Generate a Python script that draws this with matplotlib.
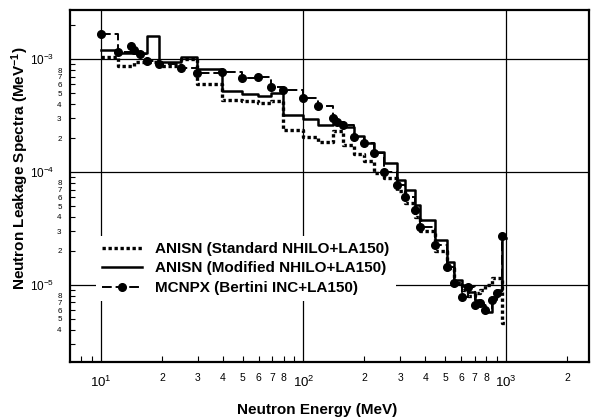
import numpy as np
import matplotlib
matplotlib.use("Agg")
import matplotlib.pyplot as plt
from matplotlib.ticker import FixedLocator, FuncFormatter

plt.rcParams["font.family"] = ["Liberation Sans", "DejaVu Sans"]
plt.rcParams["mathtext.default"] = "regular"

# group boundaries (MeV), shared by all three spectra
edges = [10, 12.1, 14.1, 14.6, 15.6, 16.9, 19.3, 24.8, 29.8, 39.6, 49.7, 59.6,
         69.2, 79.3, 100, 118, 140, 146, 157, 178, 199, 223, 250, 290, 317,
         356, 376, 446, 511, 554, 606, 649, 703, 744, 788, 853, 903, 956, 1000]

anisn_standard = [1.04e-3, 8.7e-4, 8.7e-4, 9.5e-4, 9.5e-4, 9.5e-4, 8.7e-4, 1.0e-3,
                  6.0e-4, 4.34e-4, 4.25e-4, 4.1e-4, 4.25e-4, 2.35e-4, 2.04e-4,
                  1.84e-4, 2.3e-4, 2.3e-4, 1.75e-4, 1.45e-4, 1.25e-4, 9.8e-5,
                  8.8e-5, 6.8e-5, 5.3e-5, 4.0e-5, 3.0e-5, 2.0e-5, 1.4e-5, 1.05e-5,
                  9.0e-6, 8.0e-6, 8.5e-6, 9.0e-6, 1.0e-5, 1.15e-5, 1.15e-5, 4.6e-6]

anisn_modified = [1.20e-3, 1.13e-3, 1.13e-3, 1.13e-3, 1.13e-3, 1.6e-3, 9.4e-4, 1.04e-3,
                  8.2e-4, 5.2e-4, 4.9e-4, 4.7e-4, 5.0e-4, 3.19e-4, 2.94e-4,
                  2.6e-4, 2.8e-4, 2.8e-4, 2.5e-4, 2.1e-4, 1.8e-4, 1.5e-4,
                  1.2e-4, 8.5e-5, 6.9e-5, 5.1e-5, 3.76e-5, 2.5e-5, 1.6e-5, 1.1e-5,
                  9.9e-6, 8.7e-6, 7.4e-6, 6.7e-6, 5.8e-6, 7.8e-6, 9.1e-6, 2.6e-5]

mcnpx = [1.66e-3, 1.15e-3, 1.30e-3, 1.20e-3, 1.10e-3, 9.6e-4, 9.0e-4, 8.3e-4,
         7.5e-4, 7.7e-4, 6.8e-4, 6.9e-4, 5.65e-4, 5.3e-4, 4.5e-4, 3.84e-4,
         3.0e-4, 2.8e-4, 2.6e-4, 2.04e-4, 1.81e-4, 1.47e-4, 1.0e-4, 7.7e-5,
         6.0e-5, 4.6e-5, 3.26e-5, 2.26e-5, 1.44e-5, 1.04e-5, 7.8e-6, 9.6e-6,
         6.65e-6, 6.9e-6, 6.0e-6, 7.4e-6, 8.5e-6, 2.7e-5]

labels = ["ANISN (Standard NHILO+LA150)",
          "ANISN (Modified NHILO+LA150)",
          "MCNPX (Bertini INC+LA150)"]


def closed(vals):
    return np.append(vals, vals[-1])


fig = plt.figure(figsize=(5.93, 4.2), dpi=100)
ax = fig.add_axes([70 / 593, 58 / 420, 519 / 593, 352 / 420])

ax.plot(edges, closed(anisn_standard), drawstyle="steps-post", color="black",
        lw=2.4, linestyle=(0, (1, 0.8)), label=labels[0])
ax.plot(edges, closed(anisn_modified), drawstyle="steps-post", color="black",
        lw=1.8, label=labels[1])
ax.plot(edges, closed(mcnpx), drawstyle="steps-post", color="black",
        lw=1.4, linestyle=(0, (5, 2)), marker="o", markersize=5.5,
        markevery=slice(0, len(mcnpx)), label=labels[2])

ax.set_xscale("log")
ax.set_yscale("log")
ax.set_xlim(7.03, 2570)
ax.set_ylim(2.08e-6, 2.72e-3)

# major grid only at the decades
ax.xaxis.set_major_locator(FixedLocator([10, 100, 1000]))
ax.yaxis.set_major_locator(FixedLocator([1e-5, 1e-4, 1e-3]))
ax.xaxis.set_major_formatter(FuncFormatter(
    lambda v, p: r"$10^{%d}$" % round(np.log10(v))))
ax.yaxis.set_major_formatter(FuncFormatter(
    lambda v, p: r"$10^{%d}$" % round(np.log10(v))))
ax.grid(True, which="major", color="black", lw=0.9)

x_minor = [m * 10 ** d for d in range(0, 4) for m in range(2, 10)]
y_minor = [m * 10.0 ** d for d in range(-6, -2) for m in range(2, 10)]
ax.xaxis.set_minor_locator(FixedLocator(x_minor))
ax.yaxis.set_minor_locator(FixedLocator(y_minor))


def x_minor_label(v, p):
    m = int(round(v / 10 ** np.floor(np.log10(v) + 1e-9)))
    if v < 10 or m == 9 or (v > 1000 and m != 2):
        return ""
    return str(m)


def y_minor_label(v, p):
    m = int(round(v / 10 ** np.floor(np.log10(v) + 1e-9)))
    if m == 9 or v < 4e-6 or v > 1e-3:
        return ""
    return str(m)


ax.xaxis.set_minor_formatter(FuncFormatter(x_minor_label))
ax.yaxis.set_minor_formatter(FuncFormatter(y_minor_label))

ax.tick_params(which="both", direction="in", top=False, right=False)
ax.tick_params(axis="x", which="major", length=0, labelsize=9.5, pad=9)
ax.tick_params(axis="x", which="minor", length=4, width=0.8, labelsize=7.5, pad=8)
ax.tick_params(axis="y", which="major", length=0, labelsize=8.5, pad=11)
ax.tick_params(axis="y", which="minor", length=3.5, width=0.8, labelsize=5.8, pad=6)

for spine in ax.spines.values():
    spine.set_linewidth(1.6)

leg = ax.legend(loc="upper left", bbox_to_anchor=(0.035, 0.38), fontsize=11,
                frameon=True, fancybox=False, edgecolor="none", facecolor="white",
                framealpha=1, handlelength=2.6, handletextpad=0.9,
                labelspacing=0.36, borderpad=0.4, numpoints=1)
for t in leg.get_texts():
    t.set_fontweight("bold")

fig.text(317 / 593, 1 - 410 / 420, "Neutron Energy (MeV)", ha="center",
         va="center", fontsize=11, fontweight="bold")
fig.text(20 / 593, 1 - 168 / 420, r"Neutron Leakage Spectra (MeV$^{-1}$)",
         ha="center", va="center", rotation=90, fontsize=11, fontweight="bold")

fig.savefig("out.png", dpi=100)
